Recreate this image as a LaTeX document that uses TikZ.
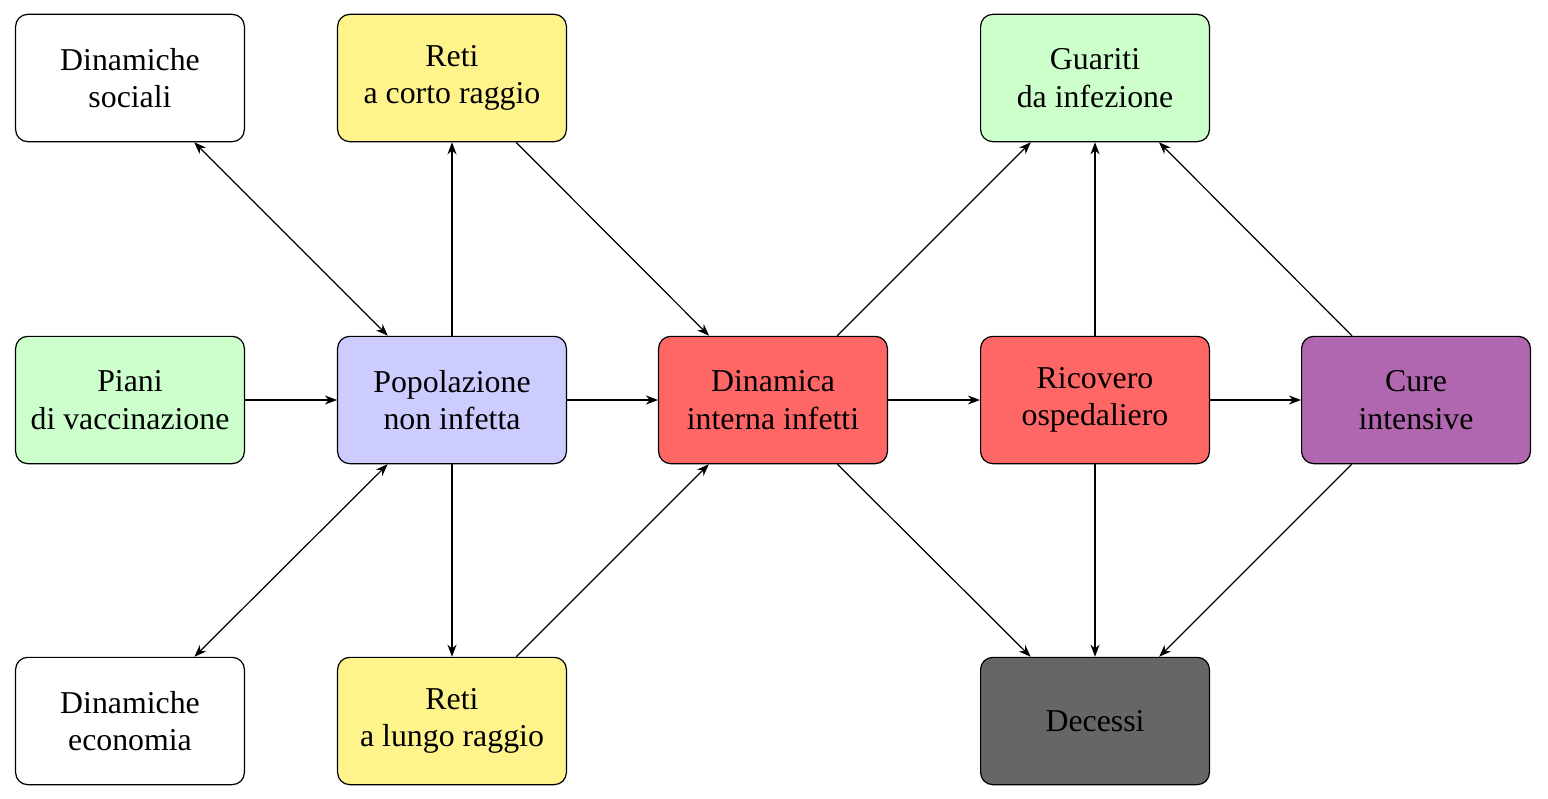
\documentclass[tikz,border=0pt]{standalone}
\usepackage{fontspec}
\setmainfont{Liberation Serif}
\usetikzlibrary{arrows.meta}
\definecolor{cyel}{HTML}{FFF48C}
\definecolor{cgreen}{HTML}{CCFFCC}
\definecolor{cblue}{HTML}{CCCCFF}
\definecolor{cred}{HTML}{FF6666}
\definecolor{cpurp}{HTML}{B067B0}
\definecolor{cgray}{HTML}{666666}
\begin{document}
\begin{tikzpicture}[x=0.0116cm,y=-0.0116cm,
  box/.style={draw=black,rounded corners=4pt,minimum width=75.5pt,minimum height=42pt,
    align=center,inner sep=2pt,font=\fontsize{10.5}{12.4}\selectfont},
  arr/.style={-{Stealth[length=4pt,width=3pt]}},
  darr/.style={{Stealth[length=4pt,width=3pt]}-{Stealth[length=4pt,width=3pt]}}]
\useasboundingbox (0,0) rectangle (1548,798);
\node[box,fill=white] (ds) at (130,78) {Dinamiche\\sociali};
\node[box,fill=cyel] (rc) at (452,78) {Reti\\a corto raggio};
\node[box,fill=cgreen] (gu) at (1095,78) {Guariti\\da infezione};
\node[box,fill=cgreen] (pv) at (130,400) {Piani\\di vaccinazione};
\node[box,fill=cblue] (pn) at (452,400) {Popolazione\\non infetta};
\node[box,fill=cred] (di) at (773,400) {Dinamica\\interna infetti};
\node[box,fill=cred] (ro) at (1095,400) {Ricovero\\ospedaliero};
\node[box,fill=cpurp] (ci) at (1416,400) {Cure\\intensive};
\node[box,fill=white] (de) at (130,721) {Dinamiche\\economia};
\node[box,fill=cyel] (rl) at (452,721) {Reti\\a lungo raggio};
\node[box,fill=cgray] (dc) at (1095,721) {Decessi};
\draw[darr] (ds) -- (pn);
\draw[darr] (de) -- (pn);
\draw[arr] (pn) -- (rc);
\draw[arr] (pn) -- (rl);
\draw[arr] (pv) -- (pn);
\draw[arr] (pn) -- (di);
\draw[arr] (rc) -- (di);
\draw[arr] (rl) -- (di);
\draw[arr] (di) -- (gu);
\draw[arr] (di) -- (ro);
\draw[arr] (di) -- (dc);
\draw[arr] (ro) -- (gu);
\draw[arr] (ro) -- (ci);
\draw[arr] (ro) -- (dc);
\draw[arr] (ci) -- (gu);
\draw[arr] (ci) -- (dc);
\end{tikzpicture}
\end{document}
